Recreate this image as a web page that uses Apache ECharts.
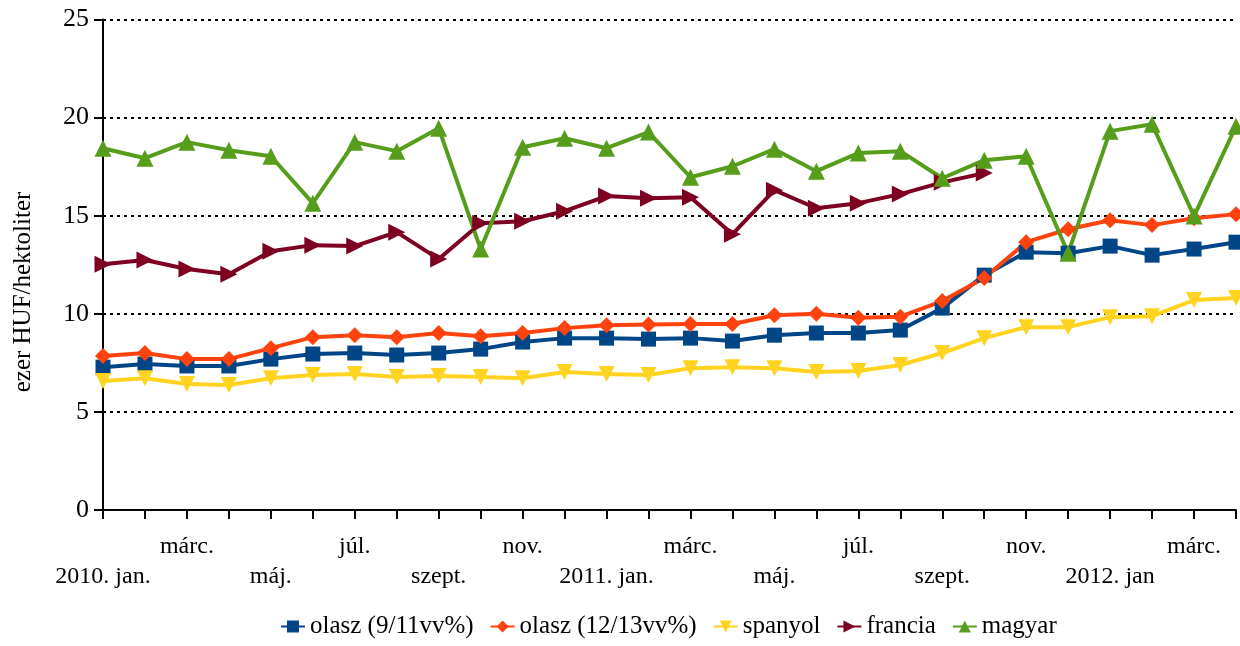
<!DOCTYPE html>
<html>
<head>
<meta charset="utf-8">
<script src="https://cdn.jsdelivr.net/npm/echarts@6/dist/echarts.min.js"></script>
<style>
html,body{margin:0;padding:0;background:#fff;}
#chart{width:1240px;height:646px;}
</style>
</head>
<body>
<div id="chart"></div>
<script>
const categories = ["2010. jan.","febr.","márc.","ápr.","máj.","jún.","júl.","aug.","szept.","okt.","nov.","dec.",
  "2011. jan.","febr.","márc.","ápr.","máj.","jún.","júl.","aug.","szept.","okt.","nov.","dec.",
  "2012. jan","febr.","márc.","ápr."];
const olasz911 = [7.28,7.44,7.34,7.34,7.69,7.95,8.0,7.9,8.0,8.2,8.56,8.76,8.76,8.71,8.76,8.61,8.91,9.02,9.02,9.17,10.29,11.97,13.14,13.09,13.45,12.99,13.3,13.65];
const olasz1213 = [7.85,8.0,7.69,7.69,8.25,8.81,8.91,8.81,9.02,8.86,9.02,9.27,9.42,9.45,9.48,9.48,9.93,10.0,9.8,9.85,10.65,11.82,13.65,14.31,14.77,14.52,14.87,15.08];
const spanyol = [6.57,6.72,6.42,6.37,6.72,6.88,6.93,6.78,6.83,6.78,6.72,7.03,6.93,6.88,7.23,7.28,7.23,7.03,7.08,7.39,8.0,8.76,9.32,9.32,9.83,9.88,10.7,10.8];
const francia = [12.53,12.74,12.28,12.02,13.19,13.5,13.45,14.16,12.79,14.62,14.72,15.23,16.0,15.89,15.94,14.06,16.3,15.38,15.64,16.1,16.7,17.17,null,null,null,null,null,null];
const magyar = [18.44,17.93,18.75,18.34,18.03,15.64,18.75,18.29,19.46,13.3,18.49,18.95,18.44,19.26,16.96,17.52,18.39,17.27,18.19,18.29,16.91,17.83,18.03,13.09,19.31,19.66,14.98,19.56];
const yTicks = [0,5,10,15,20,25];
const yName = 'ezer HUF/hektoliter';

const FONT = '"Liberation Serif", "Times New Roman", serif';
const chart = echarts.init(document.getElementById('chart'));
function mk(name, data, color, symbol, size, rot){
  return {name, type:'line', data, symbol, symbolSize:size, symbolRotate:rot||0,
    lineStyle:{width:4,color}, itemStyle:{color}, connectNulls:false, z:3,
    emphasis:{disabled:true}};
}
chart.setOption({
  animation:false,
  grid:{left:103,right:4,top:19.5,bottom:136,containLabel:false,outerBoundsMode:'none'},
  legend:{bottom:2,left:275,itemWidth:24,itemHeight:15,itemGap:16,
    textStyle:{fontFamily:FONT,fontSize:25,color:'#000'},
    data:['olasz (9/11vv%)','olasz (12/13vv%)','spanyol','francia','magyar']},
  graphic:[{type:'text',x:23,y:292,rotation:Math.PI/2,
    style:{text:yName,fontFamily:FONT,fontSize:25,fill:'#000',align:'center',verticalAlign:'middle'}}],
  xAxis:{type:'category',data:categories,boundaryGap:false,
    axisLine:{lineStyle:{color:'#000',width:2}},
    axisTick:{show:true,interval:0,length:9,lineStyle:{color:'#000',width:2}},
    axisLabel:{interval:1,margin:22,lineHeight:30,fontFamily:FONT,fontSize:24,color:'#000',
      formatter:function(v,i){return (i%4===0)?'\n'+v:v;}},
    splitLine:{show:false}},
  yAxis:{type:'value',min:0,max:25,interval:5,
    axisLine:{show:true,lineStyle:{color:'#000',width:2}},
    axisTick:{show:true,length:9,lineStyle:{color:'#000',width:2}},
    axisLabel:{margin:14,fontFamily:FONT,fontSize:26,color:'#000',
      formatter:function(v){return yTicks.indexOf(v)>=0?String(v):'';}},
    splitLine:{show:true,lineStyle:{color:'#000',width:2,type:[3,4]}}},
  series:[
    mk('olasz (9/11vv%)',olasz911,'#004586','rect',15),
    mk('olasz (12/13vv%)',olasz1213,'#ff420e','diamond',16),
    mk('spanyol',spanyol,'#ffd320','triangle',16,180),
    mk('francia',francia,'#7e0021','triangle',17,-90),
    mk('magyar',magyar,'#579d1c','triangle',17)
  ]
});
</script>
</body>
</html>
